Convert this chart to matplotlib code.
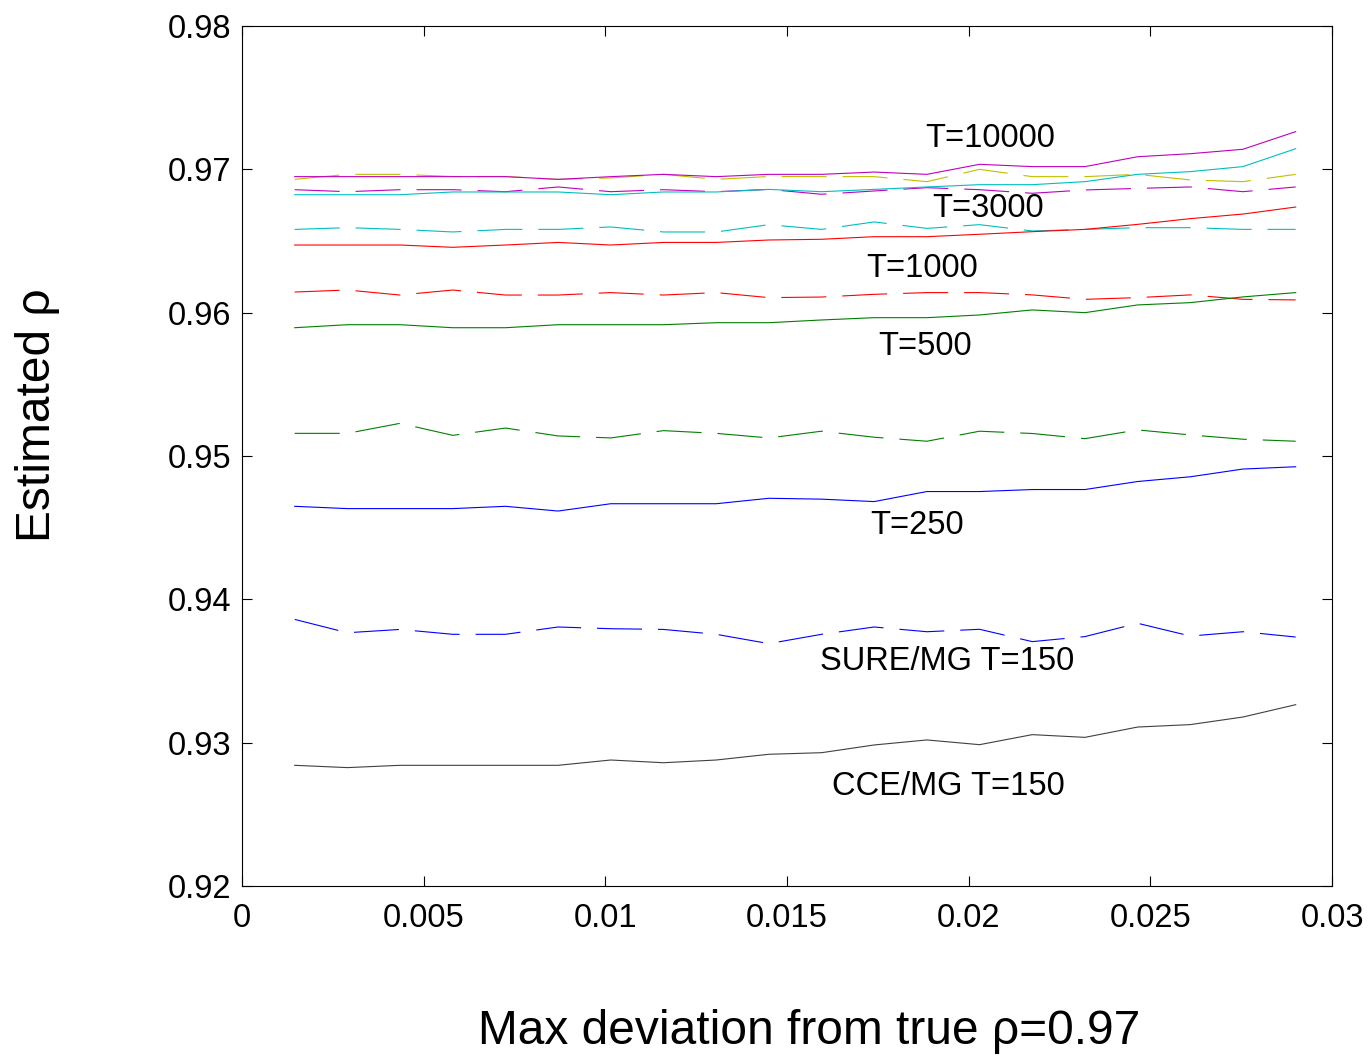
import matplotlib
matplotlib.use("Agg")
import matplotlib.pyplot as plt

plt.rcParams['font.family'] = ['Liberation Sans', 'DejaVu Sans']

# max deviation from true rho (x axis)
max_dev = [0.00145, 0.0029, 0.00435, 0.0058, 0.00725, 0.0087, 0.01015, 0.0116, 0.01305, 0.0145,
           0.01595, 0.0174, 0.01885, 0.0203, 0.02175, 0.0232, 0.02465, 0.0261, 0.02755, 0.029]

# CCE/MG estimates (solid lines)
cce_150 = [0.92842, 0.92826, 0.92842, 0.92842, 0.92842, 0.92842, 0.92879, 0.92860, 0.92879, 0.92919,
           0.92930, 0.92984, 0.93019, 0.92986, 0.93056, 0.93037, 0.93109, 0.93126, 0.93179, 0.93265]
cce_250 = [0.94649, 0.94633, 0.94633, 0.94633, 0.94649, 0.94616, 0.94667, 0.94667, 0.94667, 0.94705,
           0.94699, 0.94682, 0.94752, 0.94752, 0.94766, 0.94766, 0.94822, 0.94855, 0.94909, 0.94925]
cce_500 = [0.95895, 0.95916, 0.95916, 0.95895, 0.95895, 0.95916, 0.95916, 0.95916, 0.95930, 0.95930,
           0.95949, 0.95965, 0.95965, 0.95984, 0.96019, 0.96000, 0.96054, 0.96070, 0.96110, 0.96140]
cce_1000 = [0.96472, 0.96472, 0.96472, 0.96456, 0.96472, 0.96490, 0.96472, 0.96490, 0.96490, 0.96507,
            0.96512, 0.96530, 0.96530, 0.96547, 0.96565, 0.96581, 0.96616, 0.96656, 0.96688, 0.96737]
cce_3000 = [0.96823, 0.96823, 0.96823, 0.96842, 0.96842, 0.96842, 0.96823, 0.96842, 0.96842, 0.96860,
            0.96844, 0.96860, 0.96877, 0.96893, 0.96893, 0.96914, 0.96965, 0.96984, 0.97019, 0.97144]
cce_10000 = [0.96949, 0.96949, 0.96949, 0.96949, 0.96949, 0.96930, 0.96949, 0.96965, 0.96949, 0.96965,
             0.96965, 0.96981, 0.96965, 0.97035, 0.97019, 0.97019, 0.97088, 0.97109, 0.97140, 0.97263]

# SURE/MG estimates (dashed lines)
sure_150 = [0.93860, 0.93767, 0.93790, 0.93756, 0.93756, 0.93807, 0.93795, 0.93790, 0.93756, 0.93691,
            0.93756, 0.93807, 0.93774, 0.93791, 0.93705, 0.93740, 0.93833, 0.93744, 0.93774, 0.93737]
sure_250 = [0.95158, 0.95158, 0.95228, 0.95144, 0.95195, 0.95140, 0.95126, 0.95177, 0.95158, 0.95126,
            0.95173, 0.95131, 0.95103, 0.95173, 0.95157, 0.95121, 0.95182, 0.95147, 0.95117, 0.95103]
sure_500 = [0.96144, 0.96158, 0.96123, 0.96158, 0.96123, 0.96123, 0.96140, 0.96123, 0.96140, 0.96105,
            0.96109, 0.96128, 0.96140, 0.96140, 0.96124, 0.96093, 0.96105, 0.96124, 0.96093, 0.96089]
sure_1000 = [0.96581, 0.96593, 0.96581, 0.96563, 0.96581, 0.96581, 0.96598, 0.96563, 0.96563, 0.96614,
             0.96581, 0.96633, 0.96588, 0.96614, 0.96570, 0.96581, 0.96593, 0.96593, 0.96581, 0.96581]
sure_3000 = [0.96858, 0.96844, 0.96858, 0.96858, 0.96844, 0.96877, 0.96844, 0.96858, 0.96844, 0.96860,
             0.96826, 0.96849, 0.96872, 0.96858, 0.96833, 0.96856, 0.96867, 0.96877, 0.96844, 0.96877]
sure_10000 = [0.96930, 0.96965, 0.96965, 0.96950, 0.96950, 0.96930, 0.96940, 0.96965, 0.96930, 0.96950,
              0.96949, 0.96949, 0.96914, 0.97000, 0.96949, 0.96949, 0.96965, 0.96926, 0.96914, 0.96965]

# curve labels: text, x, y
labels = [('T=10000', 0.0188, 0.97213),
          ('T=3000', 0.0190, 0.96724),
          ('T=1000', 0.01717, 0.96306),
          ('T=500', 0.0175, 0.95761),
          ('T=250', 0.01728, 0.94513),
          ('SURE/MG T=150', 0.01591, 0.93564),
          ('CCE/MG T=150', 0.01624, 0.92692)]

c_blue = (0, 0, 1)
c_green = (0, 0.5, 0)
c_red = (1, 0, 0)
c_cyan = (0, 0.75, 0.75)
c_mag = (0.75, 0, 0.75)
c_yel = (0.75, 0.75, 0)
c_blk = (0.25, 0.25, 0.25)

lw = 0.8
dash = (0, (32.4 / lw, 11.5 / lw))

fig = plt.figure(figsize=(13.7, 10.56), dpi=100)
ax = fig.add_axes([242 / 1370, 1 - 886 / 1056, 1090 / 1370, 860 / 1056])

solid = [(cce_150, c_blk), (cce_250, c_blue), (cce_500, c_green),
         (cce_1000, c_red), (cce_3000, c_cyan), (cce_10000, c_mag)]
dashed = [(sure_150, c_blue), (sure_250, c_green), (sure_500, c_red),
          (sure_1000, c_cyan), (sure_3000, c_mag), (sure_10000, c_yel)]

for ys, c in dashed:
    ax.plot(max_dev, ys, color=c, lw=lw, linestyle=dash)
for ys, c in solid:
    ax.plot(max_dev, ys, color=c, lw=lw)

for txt, x, y in labels:
    ax.text(x, y, txt, fontsize=23.5, ha='left', va='center')

ax.set_xlim(0, 0.03)
ax.set_ylim(0.92, 0.98)
ax.set_xticks([0, 0.005, 0.01, 0.015, 0.02, 0.025, 0.03])
ax.set_xticklabels(['0', '0.005', '0.01', '0.015', '0.02', '0.025', '0.03'])
ax.set_yticks([0.92, 0.93, 0.94, 0.95, 0.96, 0.97, 0.98])
ax.set_yticklabels(['0.92', '0.93', '0.94', '0.95', '0.96', '0.97', '0.98'])
ax.tick_params(direction='in', length=7, width=0.8, labelsize=23.5,
               top=True, right=True, pad=8)
ax.tick_params(axis='x', pad=12)
for sp in ax.spines.values():
    sp.set_linewidth(0.8)

ax.set_xlabel('Max deviation from true ρ=0.97', fontsize=34.5)
ax.xaxis.set_label_coords(0.520, -0.169)
ax.xaxis.label.set_va('center')
ax.set_ylabel('Estimated ρ', fontsize=34.5)
ax.yaxis.set_label_coords(-0.188, 0.548)
ax.yaxis.label.set_va('center')

fig.savefig('out.png', dpi=100)
